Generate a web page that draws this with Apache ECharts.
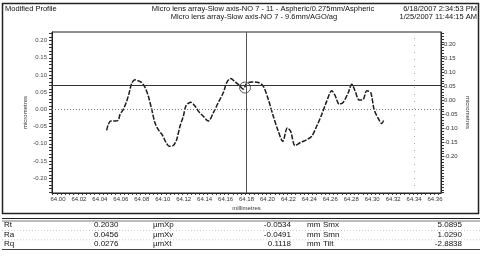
<!DOCTYPE html>
<html>
<head>
<meta charset="utf-8">
<script src="https://cdn.jsdelivr.net/npm/echarts@6/dist/echarts.min.js"></script>
<style>
  html, body { margin: 0; padding: 0; background: #fff; }
  #profile { width: 482px; height: 265px; }
</style>
</head>
<body>
<div id="profile"></div>
<script>
// profile trace (mm, micrometres)
var profileX = [64.0465, 64.0480, 64.0503, 64.0544, 64.0576, 64.0592, 64.0624, 64.0656, 64.0681, 64.0704,
    64.0735, 64.0767, 64.0799, 64.0831, 64.0862, 64.0895, 64.0926, 64.0958, 64.1000, 64.1031,
    64.1063, 64.1101, 64.1133, 64.1165, 64.1197, 64.1222, 64.1267, 64.1308, 64.1340, 64.1388,
    64.1435, 64.1483, 64.1531, 64.1579, 64.1611, 64.1649, 64.1690, 64.1731, 64.1769, 64.1802,
    64.1850, 64.1913, 64.1960, 64.2008, 64.2056, 64.2104, 64.2146, 64.2190, 64.2222, 64.2263,
    64.2311, 64.2375, 64.2423, 64.2470, 64.2518, 64.2566, 64.2614, 64.2645, 64.2686, 64.2724,
    64.2772, 64.2805, 64.2836, 64.2877, 64.2915, 64.2948, 64.2986, 64.3018, 64.3059, 64.3091,
    64.3113];
var profileY = [-0.061, -0.044, -0.034, -0.034, -0.031, -0.015, 0.000, 0.024, 0.049, 0.076,
    0.086, 0.083, 0.078, 0.064, 0.039, 0.000, -0.039, -0.059, -0.076, -0.096,
    -0.107, -0.105, -0.088, -0.049, -0.020, 0.010, 0.021, 0.010, -0.005, -0.020,
    -0.034, -0.010, 0.020, 0.049, 0.078, 0.090, 0.080, 0.070, 0.059, 0.076,
    0.080, 0.078, 0.068, 0.029, -0.020, -0.064, -0.093, -0.054, -0.064, -0.105,
    -0.097, -0.088, -0.078, -0.049, -0.015, 0.024, 0.054, 0.041, 0.015, 0.021,
    0.049, 0.073, 0.054, 0.027, 0.029, 0.054, 0.049, 0.000, -0.027, -0.041,
    -0.029];

var xTicks = [64.00, 64.02, 64.04, 64.06, 64.08, 64.10, 64.12, 64.14, 64.16, 64.18,
    64.20, 64.22, 64.24, 64.26, 64.28, 64.30, 64.32, 64.34, 64.36];
var yTicks = [-0.20, -0.15, -0.10, -0.05, 0.00, 0.05, 0.10, 0.15, 0.20];

// cursors
var cursorX = 64.18;
var cursorY = 0.066;
var cursorPoint = [64.1786, 0.0635];
var markerX = 64.336;

// results table
var tableNames = ['Rt', 'Ra', 'Rq'];
var tableValues = ['0.2030', '0.0456', '0.0276'];
var tableUnits1 = ['\u00b5m', '\u00b5m', '\u00b5m'];
var tableNames2 = ['Xp', 'Xv', 'Xt'];
var tableValues2 = ['-0.0534', '-0.0491', '0.1118'];
var tableUnits2 = ['mm', 'mm', 'mm'];
var tableNames3 = ['Smx', 'Smn', 'Tilt'];
var tableValues3 = ['5.0895', '1.0290', '-2.8838'];

var FONT = '"Liberation Sans", Arial, sans-serif';

function steps(from, to, step) {
    var out = [];
    for (var v = from; v <= to + 1e-9; v += step) out.push(+v.toFixed(4));
    return out;
}

var profileData = profileX.map(function (x, i) { return [x, profileY[i]]; });

var graphics = [
    // outer frame
    { type: 'rect', shape: { x: 2.5, y: 3.5, width: 476, height: 210 },
      style: { fill: null, stroke: '#222', lineWidth: 1.5 }, z: 10 },
    { type: 'text', x: 5, y: 5, style: { text: 'Modified Profile', font: '7.5px ' + FONT, fill: '#111' } },
    { type: 'text', x: 263, y: 5, style: { text: 'Micro lens array-Slow axis-NO 7 - 11 - Aspheric/0.275mm/Aspheric', font: '7.5px ' + FONT, fill: '#111', align: 'center' } },
    { type: 'text', x: 254, y: 12.5, style: { text: 'Micro lens array-Slow axis-NO 7 - 9.6mm/AGO/ag', font: '7.5px ' + FONT, fill: '#111', align: 'center' } },
    { type: 'text', x: 477, y: 5, style: { text: '6/18/2007 2:34:53 PM', font: '7.5px ' + FONT, fill: '#111', align: 'right' } },
    { type: 'text', x: 477, y: 12.5, style: { text: '1/25/2007 11:44:15 AM', font: '7.5px ' + FONT, fill: '#111', align: 'right' } },
    // table rules
    { type: 'line', shape: { x1: 2, y1: 218.5, x2: 480, y2: 218.5 }, style: { stroke: '#222', lineWidth: 1.2 } },
    { type: 'line', shape: { x1: 2, y1: 221, x2: 480, y2: 221 }, style: { stroke: '#555', lineWidth: 0.8 } },
    { type: 'line', shape: { x1: 2, y1: 249.5, x2: 480, y2: 249.5 }, style: { stroke: '#444', lineWidth: 1 } }
];

for (var r = 0; r < tableNames.length; r++) {
    var ty = 221 + r * 9.3;
    var cells = [
        [4, tableNames[r], 'left'],
        [94, tableValues[r], 'left'],
        [153, tableUnits1[r], 'left'],
        [164, tableNames2[r], 'left'],
        [291, tableValues2[r], 'right'],
        [307, tableUnits2[r], 'left'],
        [323, tableNames3[r], 'left'],
        [462, tableValues3[r], 'right']
    ];
    cells.forEach(function (c) {
        graphics.push({ type: 'text', x: c[0], y: ty,
            style: { text: c[1], font: '8px ' + FONT, fill: '#111', align: c[2] } });
    });
    if (r < 2) {
        graphics.push({ type: 'line', shape: { x1: 2, y1: ty + 9.5, x2: 480, y2: ty + 9.5 },
            style: { stroke: '#aaa', lineWidth: 0.6, lineDash: [1, 2] } });
    }
}

var chart = echarts.init(document.getElementById('profile'));
option = {
    animation: false,
    backgroundColor: '#fff',
    grid: {
        left: 52,
        right: 41,
        top: 32,
        bottom: 72,
        show: true,
        borderColor: '#222',
        borderWidth: 1
    },
    xAxis: {
        type: 'value',
        min: 63.9943,
        max: 64.3657,
        name: 'millimetres',
        nameLocation: 'middle',
        nameGap: 12,
        nameMoveOverlap: false,
        nameTextStyle: { fontSize: 6, color: '#333', fontFamily: FONT },
        splitLine: { show: false },
        axisLine: { onZero: false, lineStyle: { color: '#222' } },
        axisTick: { customValues: steps(63.995, 64.365, 0.004), length: 2, lineStyle: { color: '#333' } },
        axisLabel: {
            customValues: xTicks,
            fontSize: 6,
            color: '#333',
            fontFamily: FONT,
            margin: 3,
            formatter: function (v) { return v.toFixed(2); }
        }
    },
    yAxis: [{
        type: 'value',
        min: -0.243,
        max: 0.225,
        position: 'left',
        name: 'micrometres',
        nameLocation: 'middle',
        nameGap: 24,
        nameMoveOverlap: false,
        nameTextStyle: { fontSize: 6, color: '#333', fontFamily: FONT },
        splitLine: { show: false },
        axisLine: { show: true, lineStyle: { color: '#222' } },
        axisTick: { customValues: steps(-0.24, 0.22, 0.01), length: 3, lineStyle: { color: '#333' } },
        axisLabel: {
            customValues: yTicks,
            fontSize: 6,
            color: '#444',
            fontFamily: FONT,
            margin: 5,
            formatter: function (v) { return v.toFixed(2); }
        }
    }, {
        type: 'value',
        min: -0.331,
        max: 0.245,
        position: 'right',
        name: 'micrometres',
        nameLocation: 'middle',
        nameGap: 24,
        nameRotate: -90,
        nameMoveOverlap: false,
        nameTextStyle: { fontSize: 6, color: '#333', fontFamily: FONT },
        splitLine: { show: false },
        axisLine: { show: true, lineStyle: { color: '#222' } },
        axisTick: { customValues: steps(-0.33, 0.24, 0.01), length: 3, lineStyle: { color: '#333' } },
        axisLabel: {
            customValues: yTicks,
            fontSize: 6,
            color: '#333',
            fontFamily: FONT,
            margin: 3,
            formatter: function (v) { return v.toFixed(2); }
        }
    }],
    series: [{
        name: 'profile',
        type: 'line',
        yAxisIndex: 0,
        data: profileData,
        showSymbol: false,
        smooth: 0.3,
        lineStyle: { color: '#1a1a1a', width: 1.5, type: [5, 1.5] },
        markLine: {
            silent: true,
            symbol: 'none',
            label: { show: false },
            data: [
                { yAxis: cursorY, lineStyle: { color: '#333', width: 1.2, type: 'solid' } },
                { yAxis: 0, lineStyle: { color: '#777', width: 1, type: [1, 2] } },
                { xAxis: cursorX, lineStyle: { color: '#555', width: 1, type: 'solid' } },
                { xAxis: markerX, lineStyle: { color: '#aaa', width: 1, type: [1, 6] } }
            ]
        }
    }, {
        name: 'cursor',
        type: 'scatter',
        yAxisIndex: 0,
        data: [cursorPoint],
        symbol: 'circle',
        symbolSize: 11,
        itemStyle: { color: 'transparent', borderColor: '#333', borderWidth: 1 }
    }],
    graphic: graphics
};
chart.setOption(option);
</script>
</body>
</html>
